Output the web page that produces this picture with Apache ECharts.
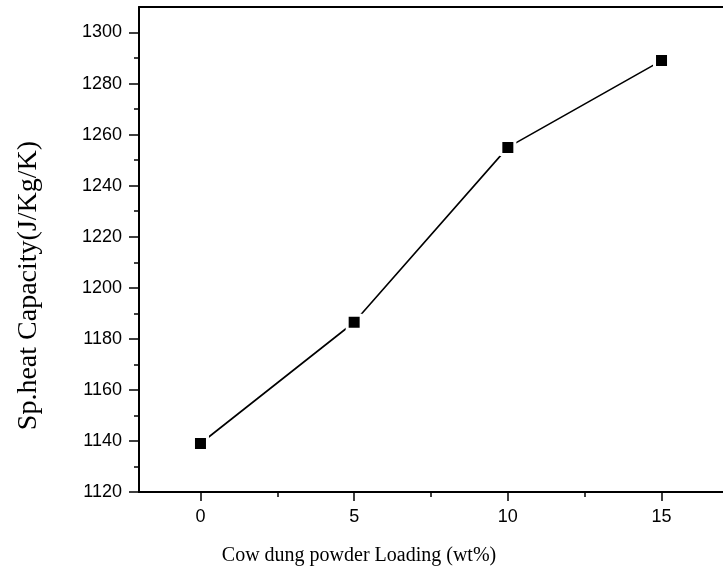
<!DOCTYPE html>
<html>
<head>
<meta charset="utf-8">
<script src="https://cdn.jsdelivr.net/npm/echarts@6/dist/echarts.min.js"></script>
<style>
  html, body { margin: 0; padding: 0; background: #fff; }
  #chart { width: 723px; height: 571px; }
</style>
</head>
<body>
<div id="chart"></div>
<script>
// Specific heat capacity versus cow dung powder loading
const loading = [0, 5, 10, 15];                 // wt%
const capacity = [1139, 1186.5, 1255, 1289];    // J/Kg/K

const yMajorTicks = [1120, 1140, 1160, 1180, 1200, 1220, 1240, 1260, 1280, 1300];
const yMinorTicks = [1130, 1150, 1170, 1190, 1210, 1230, 1250, 1270, 1290];
const xMajorTicks = [0, 5, 10, 15];
const xMinorTicks = [2.5, 7.5, 12.5];

const X_MIN = -2, X_MAX = 17, Y_MIN = 1120, Y_MAX = 1310;

const labelFont = { color: '#000', fontFamily: 'Liberation Sans, Arial, sans-serif', fontSize: 18 };
const serif = 'Liberation Serif, Times New Roman, serif';
const lineStyle = { color: '#000', width: 2 };
const plain = v => String(v);

const chart = echarts.init(document.getElementById('chart'), null, { renderer: 'canvas' });

chart.setOption({
  backgroundColor: '#fff',
  animation: false,
  grid: { left: 139, top: 7, bottom: 78, right: -10, containLabel: false },
  xAxis: [
    {
      type: 'value', min: X_MIN, max: X_MAX, position: 'bottom',
      name: 'Cow dung powder Loading (wt%)',
      nameLocation: 'middle', nameGap: 54,
      nameTextStyle: { color: '#000', fontFamily: serif, fontSize: 20, padding: [0, 144, 0, 0] },
      axisLine: { show: true, onZero: false, lineStyle: lineStyle },
      axisTick: { show: true, inside: false, length: 9, customValues: xMajorTicks, lineStyle: { color: '#000', width: 1.5 } },
      axisLabel: { show: true, margin: 16, customValues: xMajorTicks, formatter: plain, ...labelFont },
      splitLine: { show: false }
    },
    {
      // minor ticks of the bottom axis
      type: 'value', min: X_MIN, max: X_MAX, position: 'bottom',
      axisLine: { show: false, onZero: false },
      axisTick: { show: true, inside: false, length: 5, customValues: xMinorTicks, lineStyle: { color: '#000', width: 1.5 } },
      axisLabel: { show: false },
      splitLine: { show: false }
    },
    {
      // top frame line
      type: 'value', min: X_MIN, max: X_MAX, position: 'top',
      axisLine: { show: true, onZero: false, lineStyle: lineStyle },
      axisTick: { show: false }, axisLabel: { show: false }, splitLine: { show: false }
    }
  ],
  yAxis: [
    {
      type: 'value', min: Y_MIN, max: Y_MAX, position: 'left',
      name: 'Sp.heat Capacity(J/Kg/K)',
      nameLocation: 'middle', nameGap: 96,
      nameTextStyle: { color: '#000', fontFamily: serif, fontSize: 28, padding: [0, 72, 0, 0] },
      axisLine: { show: true, onZero: false, lineStyle: lineStyle },
      axisTick: { show: true, inside: false, length: 10, customValues: yMajorTicks, lineStyle: { color: '#000', width: 1.5 } },
      axisLabel: { show: true, margin: 17, customValues: yMajorTicks, formatter: plain, ...labelFont },
      splitLine: { show: false }
    },
    {
      // minor ticks of the left axis
      type: 'value', min: Y_MIN, max: Y_MAX, position: 'left',
      axisLine: { show: false, onZero: false },
      axisTick: { show: true, inside: false, length: 5, customValues: yMinorTicks, lineStyle: { color: '#000', width: 1.5 } },
      axisLabel: { show: false },
      splitLine: { show: false }
    }
  ],
  series: [
    {
      type: 'line',
      xAxisIndex: 0, yAxisIndex: 0,
      data: loading.map((x, i) => [x, capacity[i]]),
      symbol: 'rect',
      symbolSize: 14,
      itemStyle: { color: '#000', borderColor: '#fff', borderWidth: 3 },
      lineStyle: { color: '#000', width: 1.6 },
      emphasis: { disabled: true },
      z: 3
    }
  ]
});
</script>
</body>
</html>
